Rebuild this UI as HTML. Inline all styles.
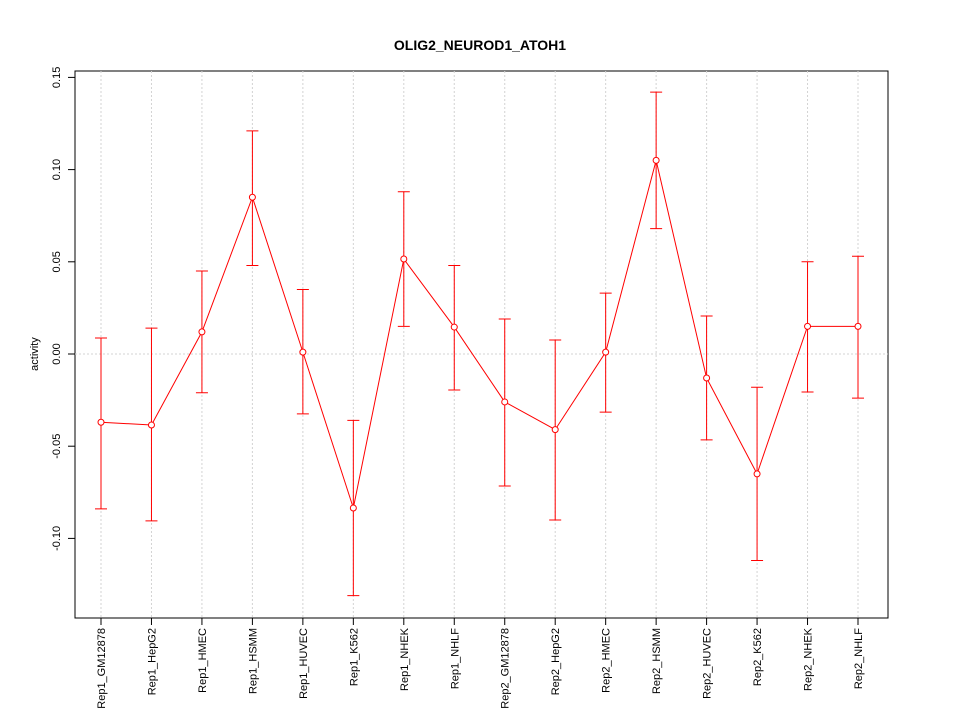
<!DOCTYPE html>
<html><head><meta charset="utf-8"><style>
body{margin:0;background:#fff;}
svg text{font-family:"Liberation Sans",sans-serif;}
</style></head><body>
<svg id="chart" width="960" height="720" xmlns="http://www.w3.org/2000/svg">
<rect width="960" height="720" fill="#fff"/>
<text x="480" y="50" text-anchor="middle" font-size="14" font-weight="bold">OLIG2_NEUROD1_ATOH1</text>
<rect x="75" y="71" width="813" height="547" fill="none" stroke="#000"/>
<text transform="translate(38,354) rotate(-90)" text-anchor="middle" font-size="11">activity</text>
<g id="grid"></g><g id="axes"></g><g id="series"></g>
</svg>
<script>
const categories=["Rep1_GM12878","Rep1_HepG2","Rep1_HMEC","Rep1_HSMM","Rep1_HUVEC","Rep1_K562","Rep1_NHEK","Rep1_NHLF","Rep2_GM12878","Rep2_HepG2","Rep2_HMEC","Rep2_HSMM","Rep2_HUVEC","Rep2_K562","Rep2_NHEK","Rep2_NHLF"];
const values=[-0.037,-0.0385,0.012,0.085,0.001,-0.0835,0.0515,0.0146,-0.026,-0.041,0.001,0.105,-0.013,-0.065,0.015,0.015];
const upper=[0.0087,0.014,0.045,0.121,0.035,-0.036,0.088,0.048,0.019,0.0076,0.033,0.142,0.0206,-0.018,0.05,0.053];
const lower=[-0.084,-0.0905,-0.021,0.048,-0.0325,-0.131,0.015,-0.0195,-0.0716,-0.09,-0.0315,0.068,-0.0466,-0.112,-0.0206,-0.0239];
const yTicks=[-0.10,-0.05,0.00,0.05,0.10,0.15];
const yTickLabels=["-0.10","-0.05","0.00","0.05","0.10","0.15"];
const NS="http://www.w3.org/2000/svg";
function x(i){return 101+i*(858-101)/(categories.length-1);}
function y(v){return 354-v*1844;}
function mk(t,a,p){const e=document.createElementNS(NS,t);for(const k in a)e.setAttribute(k,a[k]);p.appendChild(e);return e;}
const grid=document.getElementById('grid'),axes=document.getElementById('axes'),ser=document.getElementById('series');
categories.forEach((c,i)=>{
 const g=mk('line',{x1:x(i),x2:x(i),y1:71,y2:618,stroke:'#d3d3d3','stroke-dasharray':'2,2'},grid);
 
 
 const t=mk('line',{x1:x(i),x2:x(i),y1:618,y2:625,stroke:'#000'},axes);
 
 
 const l=mk('text',{transform:`translate(${x(i)+4},628) rotate(-90)`,'text-anchor':'end','font-size':'11'},axes);
 l.textContent=c;
 
 
});
const z=mk('line',{x1:75,x2:888,y1:y(0),y2:y(0),stroke:'#d3d3d3','stroke-dasharray':'2,2'},grid);


yTicks.forEach((v,i)=>{
 const t=mk('line',{x1:68,x2:75,y1:y(v),y2:y(v),stroke:'#000'},axes);
 
 
 const l=mk('text',{transform:`translate(60,${y(v)}) rotate(-90)`,'text-anchor':'middle','font-size':'11'},axes);
 l.textContent=yTickLabels[i];
 
 
});
const pl=mk('polyline',{points:values.map((v,i)=>x(i)+','+y(v)).join(' '),fill:'none',stroke:'#f00'},ser);


values.forEach((v,i)=>{
 const e=mk('path',{d:`M${x(i)},${y(upper[i])}V${y(lower[i])}M${x(i)-6},${y(upper[i])}H${x(i)+6}M${x(i)-6},${y(lower[i])}H${x(i)+6}`,stroke:'#f00',fill:'none'},ser);
 
 
 const p=mk('circle',{cx:x(i),cy:y(v),r:3,fill:'#fff',stroke:'#f00'},ser);
 
 
});
</script>
</body></html>
